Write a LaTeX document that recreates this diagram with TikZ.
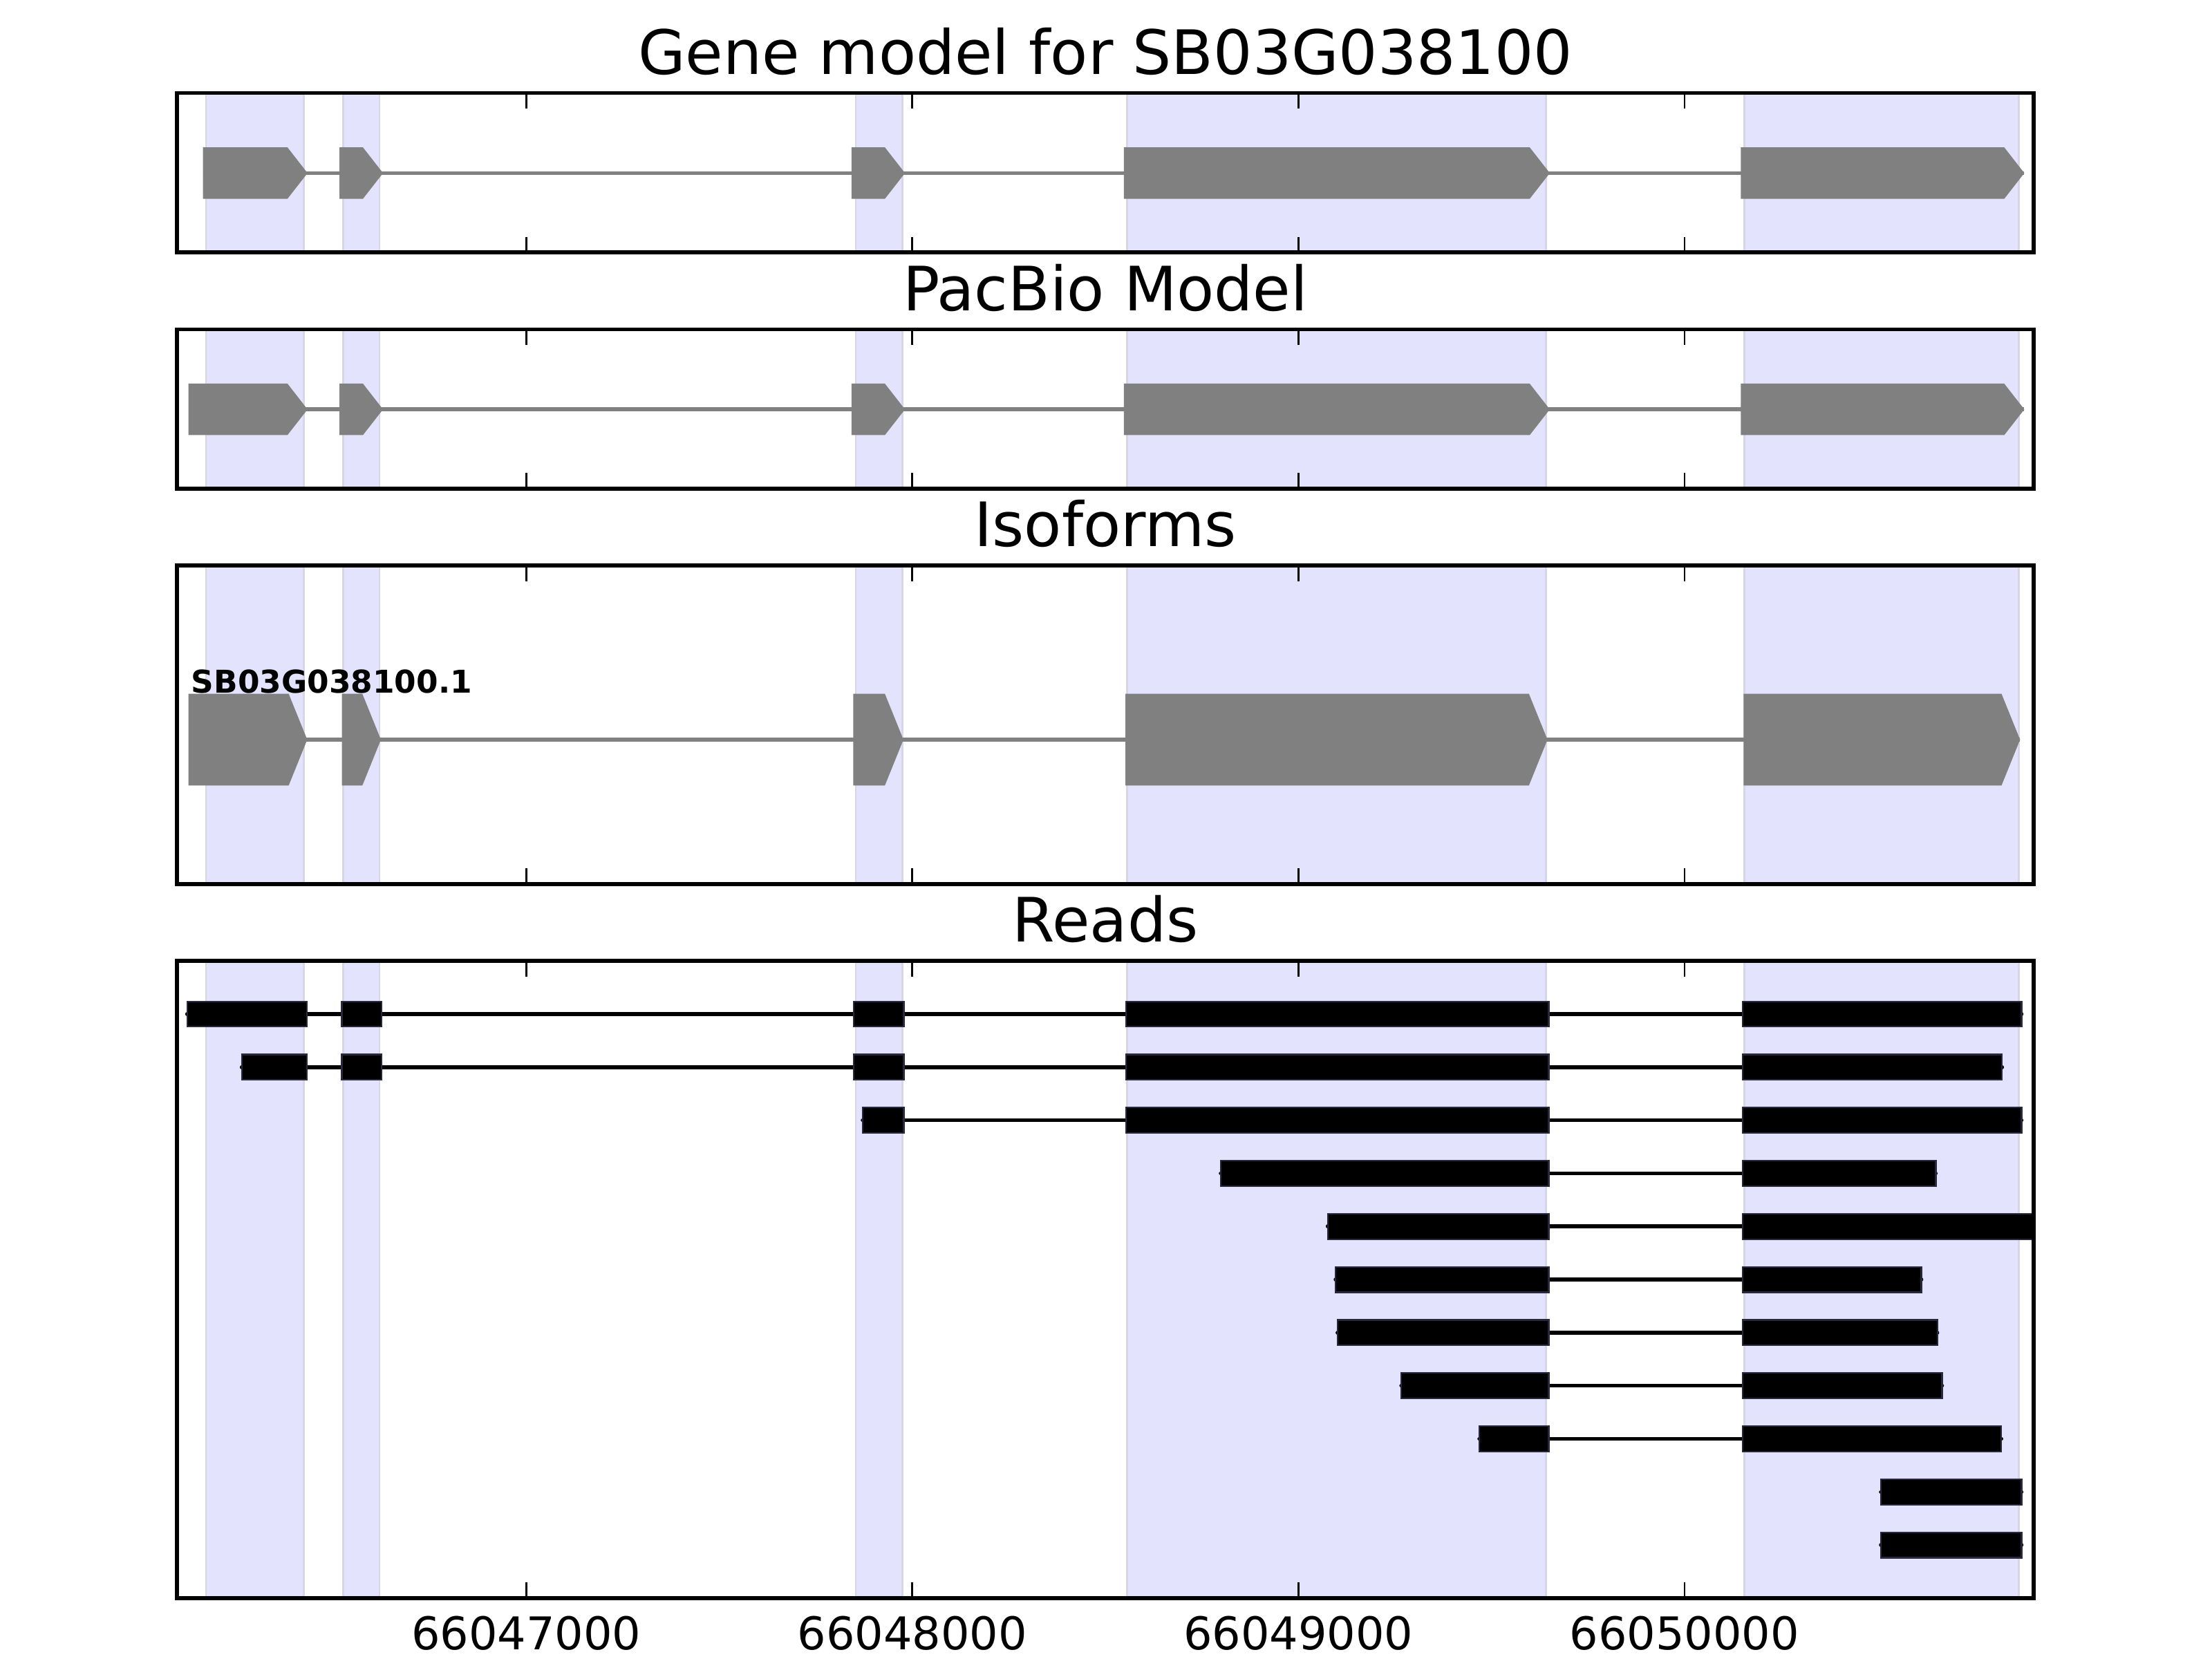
\documentclass[tikz,border=0pt]{standalone}
\usepackage{fontspec}
\setmainfont{DejaVu Sans}
\definecolor{bandblue}{RGB}{227,227,253}
\definecolor{bandedge}{RGB}{214,214,232}
\definecolor{exongray}{RGB}{128,128,128}
\definecolor{readedge}{RGB}{40,40,60}
\tikzset{
  band/.style={fill=bandblue,draw=bandedge,line width=0.5pt},
  frame/.style={draw=black,line width=1pt},
  tickmark/.style={line width=0.5pt},
  intron/.style={exongray,line width=1pt},
  exonshape/.style={fill=exongray},
  readline/.style={black,line width=1pt,line cap=round},
  readexon/.style={fill=black,draw=readedge,line width=0.4pt},
  paneltitle/.style={anchor=base,inner sep=0pt,font=\fontsize{16}{19}\selectfont},
  ticklabel/.style={anchor=base,inner sep=0pt,font=\fontsize{11.8}{14}\selectfont},
  isolabel/.style={anchor=base west,inner sep=0pt,font=\fontsize{8.2}{10}\selectfont\bfseries}
}
% start, end, centre, half height, taper
\newcommand{\exonarrow}[5]{%
  \fill[exonshape] (#1,#3-#4) -- (#2-#5,#3-#4) -- (#2,#3) -- (#2-#5,#3+#4) -- (#1,#3+#4) -- cycle;}
\begin{document}
\begin{tikzpicture}[x=3.5469cm,y={(0cm,-0.012959cm)}]
  \useasboundingbox (-0.3628,0) rectangle (5.3661,1176);

  % exon bands and ticks in every panel
  \foreach \top/\bot in {66/178.95, 233.5/346.45, 401/626.9, 681.45/1133.25} {
    \foreach \a/\b in {0.1706/0.4242, 0.5265/0.6200, 1.8535/1.9741, 2.5561/3.6412, 4.1556/4.8655}
      \draw[band] (\a,\top) rectangle (\b,\bot);
    \foreach \k in {1,...,4} {
      \draw[tickmark] (\k,\top) -- ++(0,11);
      \draw[tickmark] (\k,\bot) -- ++(0,-11);
    }
  }

  % gene model
  \draw[intron] (0.1630,122.75) -- (4.880,122.75);
  \foreach \a/\b in {0.1630/0.4337, 0.5163/0.6292, 1.8425/1.9810, 2.5480/3.6510, 4.1460/4.8800}
    {\exonarrow{\a}{\b}{122.75}{18.25}{0.052}}

  % pacbio model
  \draw[intron] (0.1253,290.3) -- (4.880,290.3);
  \foreach \a/\b in {0.1253/0.4337, 0.5163/0.6292, 1.8425/1.9810, 2.5480/3.6510, 4.1460/4.8800}
    {\exonarrow{\a}{\b}{290.3}{18.25}{0.052}}

  % isoforms
  \draw[intron] (0.1253,524.5) -- (4.869,524.5);
  \foreach \a/\b in {0.1253/0.4329, 0.5225/0.6237, 1.8470/1.9770, 2.5520/3.6450, 4.1530/4.8690}
    {\exonarrow{\a}{\b}{524.5}{32.5}{0.048}}
  \node[isolabel] (isoname) at (0.1308,491.5) {SB03G038100.1};

  % reads
  \foreach \r/\s/\e/\segs in {
      1/0.1217/4.8729/{0.1217/0.4315,0.5225/0.6259,1.8480/1.9781,2.5535/3.6485,4.1501/4.8729},
      2/0.2631/4.8225/{0.2631/0.4315,0.5225/0.6259,1.8480/1.9781,2.5535/3.6485,4.1501/4.8225},
      3/1.8714/4.8729/{1.8714/1.9781,2.5535/3.6485,4.1501/4.8729},
      4/2.7987/4.6507/{2.7987/3.6485,4.1501/4.6507},
      5/3.0757/4.9040/{3.0757/3.6485,4.1501/4.9040},
      6/3.0961/4.6134/{3.0961/3.6485,4.1501/4.6134},
      7/3.1012/4.6547/{3.1012/3.6485,4.1501/4.6547},
      8/3.2663/4.6671/{3.2663/3.6485,4.1501/4.6671},
      9/3.4684/4.8206/{3.4684/3.6485,4.1501/4.8206},
      10/4.5085/4.8729/{4.5085/4.8729},
      11/4.5085/4.8729/{4.5085/4.8729}} {
    \pgfmathsetmacro{\ry}{681.45+37.65*\r}
    \draw[readline] (\s,\ry) -- (\e,\ry);
    \foreach \a/\b in \segs
      \draw[readexon] (\a,\ry-9) rectangle (\b,\ry+9);
  }

  % frames
  \foreach \top/\bot in {66/178.95, 233.5/346.45, 401/626.9, 681.45/1133.25}
    \draw[frame] (0.096,\top) rectangle (4.904,\bot);

  % titles
  \node[paneltitle] (tgene) at (2.5,52.6) {Gene model for SB03G038100};
  \node[paneltitle] (tpacbio) at (2.5,220.1) {PacBio Model};
  \node[paneltitle] (tiso) at (2.5,387.6) {Isoforms};
  \node[paneltitle] (treads) at (2.5,668.05) {Reads};

  % x tick labels
  \foreach \k/\lab in {1/66047000, 2/66048000, 3/66049000, 4/66050000}
    \node[ticklabel] (xlab\k) at (\k,1169.6) {\lab};
\end{tikzpicture}
\end{document}
